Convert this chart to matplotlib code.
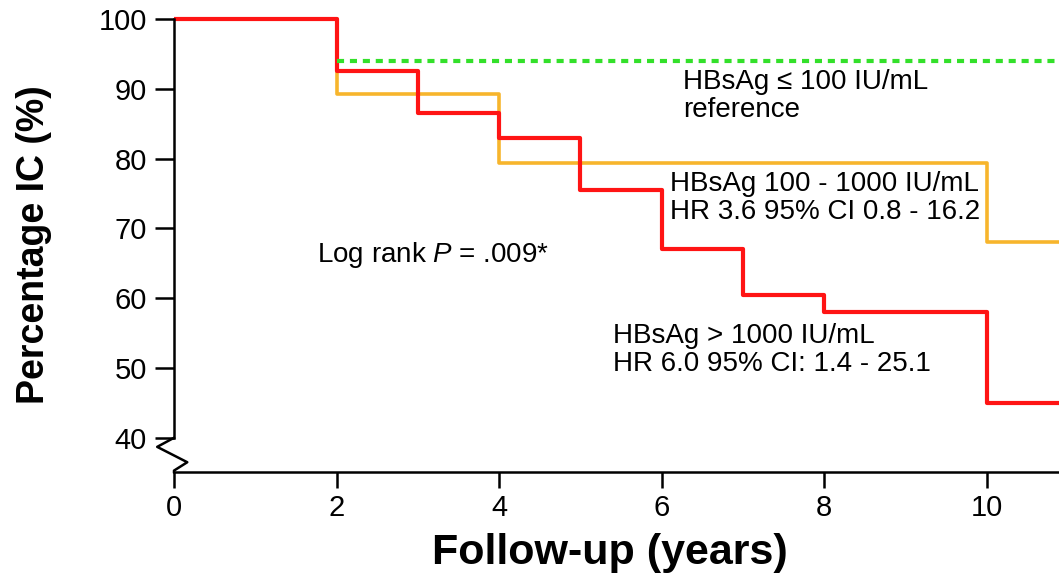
import matplotlib
matplotlib.use('Agg')
import matplotlib.pyplot as plt
from matplotlib.transforms import blended_transform_factory

plt.rcParams['font.family'] = ['Liberation Sans', 'DejaVu Sans']
plt.rcParams['mathtext.fontset'] = 'custom'
plt.rcParams['mathtext.rm'] = 'Liberation Sans'
plt.rcParams['mathtext.it'] = 'Liberation Sans:italic'

# Kaplan-Meier style curves (years, % free of IC)
high_t = [0, 2, 3, 4, 5, 6, 7, 8, 10, 11]
high_s = [100, 92.5, 86.5, 83, 75.5, 67, 60.5, 58, 45, 45]
mid_t = [0, 2, 4, 10, 11]
mid_s = [100, 89.2, 79.3, 68, 68]
ref_t = [2, 11]
ref_s = [94, 94]

xticks = [0, 2, 4, 6, 8, 10]
yticks = [40, 50, 60, 70, 80, 90, 100]

fig = plt.figure(figsize=(10.59, 5.73), dpi=100)
ax = fig.add_axes([174 / 1059, 101 / 573, 885 / 1059, 460 / 573])

ax.step(mid_t, mid_s, where='post', color='#f7b52c', lw=2.6)
ax.step(high_t, high_s, where='post', color='#ff1414', lw=3)
ax.plot(ref_t, ref_s, color='#33e02a', lw=3, dashes=(1.7, 1.4))

ax.set_xlim(0, 10.89)
ax.set_ylim(35.1, 101)
ax.set_xticks(xticks)
ax.set_yticks(yticks)

for s in ['top', 'right']:
    ax.spines[s].set_visible(False)
ax.spines['left'].set_bounds(40, 100)
ax.spines['left'].set_linewidth(1.8)
ax.spines['bottom'].set_linewidth(1.8)

ax.tick_params(axis='y', length=13.5, width=1.8, pad=6, labelsize=21)
ax.tick_params(axis='x', length=11.5, width=1.8, pad=4, labelsize=21)

# axis break on the y axis
tr = blended_transform_factory(ax.transAxes, ax.transData)
ax.plot([0, -0.019, 0.015, 0, 0], [40, 38.7, 36.5, 35.3, 35.1],
        color='black', lw=1.8, transform=tr, clip_on=False)

ax.set_ylabel('Percentage IC (%)', fontsize=27, fontweight='bold', va='center')
ax.yaxis.set_label_coords(-0.158, 0.4935)
ax.set_xlabel('Follow-up (years)', fontsize=31, fontweight='bold', va='center')
ax.xaxis.set_label_coords(0.4927, -0.176)

ax.text(6.26, 89.0, 'HBsAg \u2264 100 IU/mL\nreference', fontsize=20,
        va='center', ha='left', linespacing=1.1)
ax.text(6.1, 74.3, 'HBsAg 100 - 1000 IU/mL\nHR 3.6 95% CI 0.8 - 16.2', fontsize=20,
        va='center', ha='left', linespacing=1.1)
ax.text(5.4, 52.6, 'HBsAg > 1000 IU/mL\nHR 6.0 95% CI: 1.4 - 25.1', fontsize=20,
        va='center', ha='left', linespacing=1.1)
ax.text(1.76, 66.2, 'Log rank $P$ = .009*', fontsize=20, va='center', ha='left')

fig.savefig('out.png', dpi=100)
